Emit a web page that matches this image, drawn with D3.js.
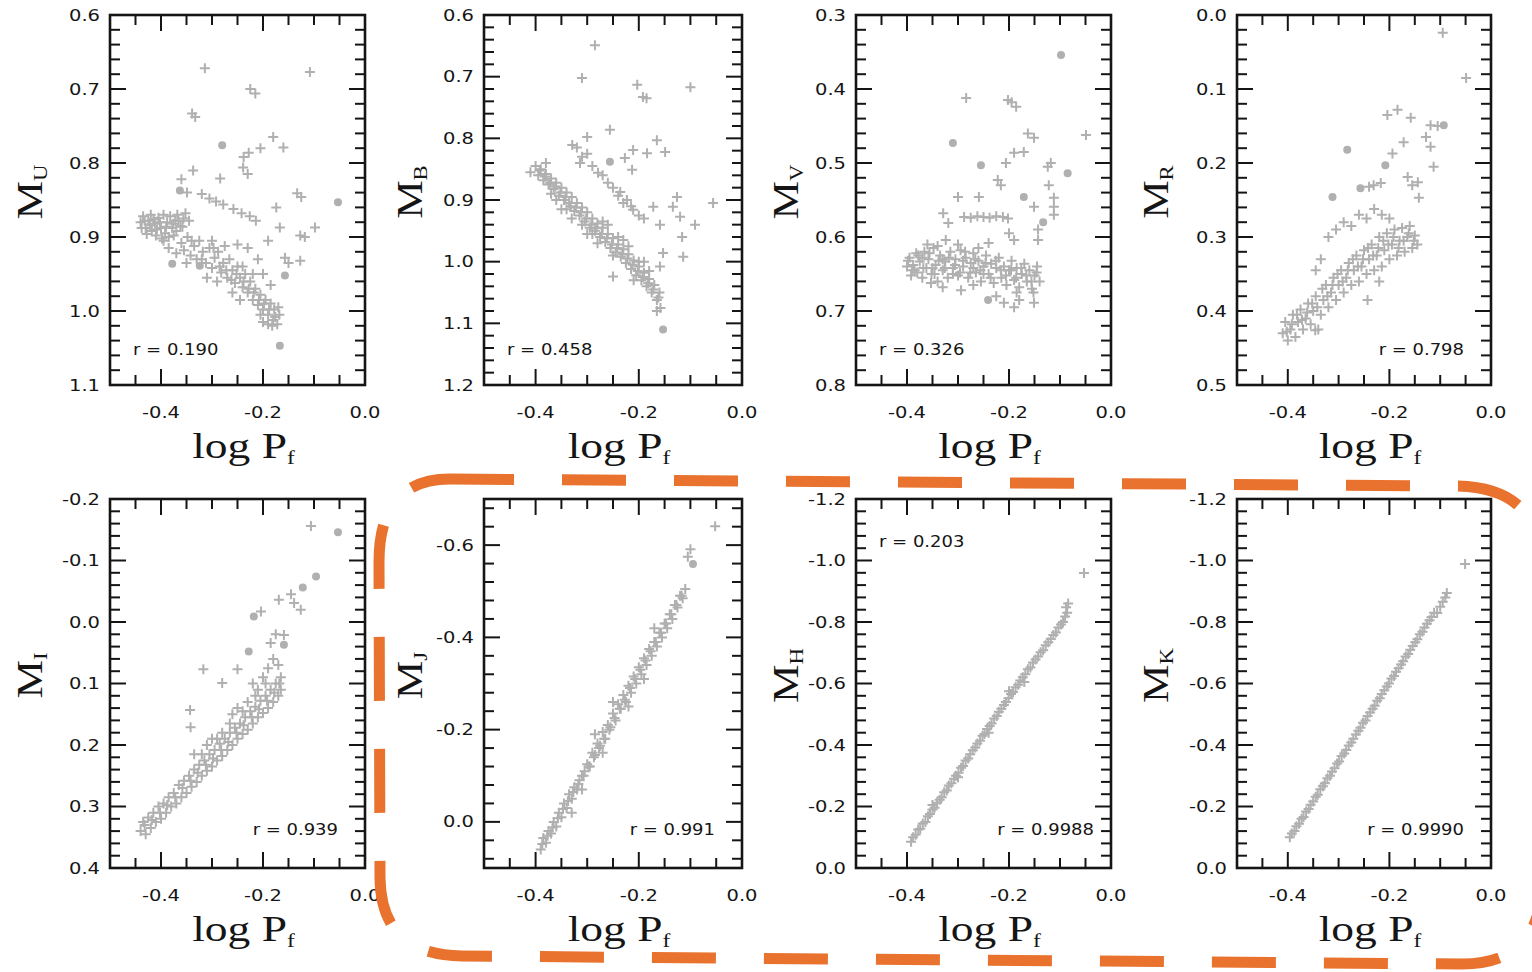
<!DOCTYPE html>
<html><head><meta charset="utf-8">
<script src="https://cdn.jsdelivr.net/npm/d3@7"></script>
<style>html,body{margin:0;padding:0;background:#fff;} svg{display:block;}</style>
</head><body>
<svg id="c" width="1532" height="972"></svg>
<script>
// ---------------- data ----------------
const bands = ["U","B","V","R","I","J","H","K"];
const xDomain = [-0.5, 0.0];
const xMajor = [-0.4, -0.2, 0.0];
const xMinorStep = 0.05;
const yDomains = [[0.6,1.1],[0.6,1.2],[0.3,0.8],[0.0,0.5],[-0.2,0.4],[-0.7,0.1],[-1.2,0.0],[-1.2,0.0]];
const yMajors = [
  [0.6,0.7,0.8,0.9,1.0,1.1],
  [0.6,0.7,0.8,0.9,1.0,1.1,1.2],
  [0.3,0.4,0.5,0.6,0.7,0.8],
  [0.0,0.1,0.2,0.3,0.4,0.5],
  [-0.2,-0.1,0.0,0.1,0.2,0.3,0.4],
  [-0.6,-0.4,-0.2,0.0],
  [-1.2,-1.0,-0.8,-0.6,-0.4,-0.2,0.0],
  [-1.2,-1.0,-0.8,-0.6,-0.4,-0.2,0.0]
];
const yMinorSteps = [0.02,0.02,0.02,0.02,0.02,0.04,0.04,0.04];
const rLabels = [["r = 0.190"],["r = 0.458"],["r = 0.326"],["r = 0.798"],["r = 0.939"],["r = 0.991"],["r = 0.203","r = 0.9988"],["r = 0.9990"]];

const ptsU = [
[-0.314,0.672],[-0.108,0.677],[-0.225,0.700],[-0.215,0.706],[-0.339,0.733],[-0.333,0.738],
[-0.280,0.776,1],[-0.180,0.765],[-0.160,0.779],[-0.228,0.786],[-0.238,0.792],[-0.205,0.780],
[-0.337,0.810],[-0.239,0.806],[-0.230,0.815],[-0.360,0.822],[-0.284,0.821],
[-0.363,0.837,1],[-0.349,0.840],[-0.320,0.842],[-0.305,0.848],[-0.292,0.852],[-0.278,0.856],[-0.258,0.862],[-0.242,0.868],[-0.226,0.872],[-0.214,0.878],
[-0.133,0.841],[-0.125,0.846],[-0.053,0.853,1],[-0.174,0.860],[-0.167,0.887],[-0.098,0.887],[-0.127,0.898],[-0.118,0.900],[-0.127,0.932],[-0.157,0.928],[-0.150,0.935],[-0.157,0.952,1],[-0.167,1.047,1],[-0.378,0.936,1],[-0.324,0.939,1],[-0.190,0.905],
[-0.440,0.880],[-0.435,0.872],[-0.430,0.888],[-0.425,0.878],[-0.420,0.870],[-0.418,0.892],[-0.412,0.882],[-0.405,0.874],[-0.400,0.888],[-0.395,0.870],[-0.392,0.895],[-0.388,0.880],[-0.382,0.872],[-0.378,0.888],[-0.372,0.878],[-0.368,0.870],[-0.362,0.885],[-0.356,0.875],[-0.352,0.868],[-0.410,0.898],[-0.428,0.896],[-0.398,0.902],[-0.385,0.900],
[-0.438,0.888],[-0.432,0.878],[-0.422,0.884],[-0.415,0.876],[-0.408,0.890],[-0.402,0.880],[-0.390,0.886],[-0.376,0.882],[-0.366,0.878],[-0.358,0.886],[-0.370,0.892],[-0.345,0.878],
[-0.395,0.905],[-0.385,0.915],[-0.375,0.898],[-0.370,0.922],[-0.360,0.908],[-0.355,0.918],[-0.348,0.900],[-0.342,0.925],[-0.335,0.912],[-0.330,0.930],[-0.325,0.905],[-0.318,0.920],[-0.312,0.935],[-0.305,0.915],[-0.300,0.942],[-0.295,0.928],[-0.288,0.920],[-0.282,0.948],[-0.278,0.935],[-0.270,0.955],[-0.266,0.930],[-0.260,0.945],[-0.255,0.962],[-0.250,0.940],[-0.245,0.955],[-0.240,0.968],[-0.235,0.950],[-0.230,0.975],[-0.225,0.960],[-0.220,0.985],[-0.215,0.970],[-0.210,0.992],[-0.205,0.978],[-0.200,0.998],[-0.195,0.985],[-0.190,1.005],[-0.185,0.990],[-0.180,1.012],[-0.178,0.998],[-0.172,1.018],[-0.168,1.005],[-0.190,1.018],[-0.205,1.005],[-0.260,0.975],[-0.290,0.960],[-0.245,0.985],[-0.310,0.955],[-0.350,0.935],
[-0.230,0.915],[-0.210,0.930],[-0.250,0.910],[-0.200,0.950],[-0.185,0.965],[-0.300,0.905],[-0.275,0.912],
[-0.340,0.905],[-0.320,0.930],[-0.297,0.915],[-0.285,0.940],[-0.272,0.945],[-0.262,0.958],[-0.252,0.950],[-0.238,0.960],[-0.228,0.970],[-0.218,0.975],[-0.208,0.985],[-0.198,0.990],[-0.188,0.998],[-0.176,1.008],[-0.182,1.020],[-0.200,1.015],[-0.170,0.995],[-0.220,0.950],[-0.240,0.940]
];
const ptsB = [
[-0.285,0.649],[-0.310,0.702],[-0.203,0.713],[-0.192,0.733],[-0.185,0.735],[-0.100,0.717],
[-0.256,0.786],[-0.329,0.811],[-0.300,0.798],[-0.211,0.819],[-0.184,0.824],[-0.165,0.803],[-0.149,0.822],[-0.256,0.838,1],[-0.227,0.832],[-0.213,0.851],[-0.314,0.840],[-0.279,0.856],
[-0.236,0.887],[-0.223,0.900],[-0.211,0.916],[-0.172,0.911],[-0.126,0.895],[-0.134,0.911],[-0.056,0.905],[-0.120,0.927],[-0.159,0.940],[-0.091,0.940],[-0.116,0.960],[-0.153,0.986],[-0.114,0.992],[-0.159,1.008],[-0.250,1.024],[-0.153,1.110,1],
[-0.320,0.815],[-0.310,0.830],[-0.300,0.825],[-0.290,0.845],[-0.270,0.860],[-0.260,0.872],[-0.250,0.880],[-0.240,0.893],[-0.230,0.905],[-0.215,0.910],[-0.200,0.925],[-0.190,0.930],
[-0.400,0.845],[-0.395,0.860],[-0.390,0.850],[-0.385,0.868],[-0.380,0.858],[-0.375,0.875],[-0.370,0.865],[-0.365,0.882],[-0.360,0.872],[-0.355,0.893],[-0.350,0.880],[-0.345,0.900],[-0.340,0.888],[-0.335,0.905],[-0.330,0.895],[-0.325,0.918],[-0.320,0.905],[-0.315,0.925],[-0.310,0.912],[-0.305,0.935],[-0.300,0.920],[-0.295,0.945],[-0.290,0.930],[-0.285,0.950],[-0.280,0.938],[-0.275,0.960],[-0.270,0.945],[-0.265,0.968],[-0.260,0.955],[-0.255,0.978],[-0.250,0.962],[-0.245,0.985],[-0.240,0.972],[-0.235,0.992],[-0.230,0.980],[-0.225,1.002],[-0.220,0.988],[-0.215,1.012],[-0.210,0.998],[-0.205,1.022],[-0.200,1.008],[-0.195,1.030],[-0.190,1.018],[-0.185,1.040],[-0.180,1.028],[-0.175,1.050],[-0.170,1.038],[-0.165,1.062],[-0.160,1.050],[-0.158,1.075],[-0.165,1.080],
[-0.330,0.930],[-0.360,0.900],[-0.280,0.970],[-0.310,0.940],[-0.250,0.990],[-0.210,1.030],[-0.270,0.935],[-0.230,0.965],[-0.190,1.000],[-0.380,0.840],[-0.410,0.855],[-0.350,0.915],[-0.300,0.955],
[-0.392,0.852],[-0.382,0.862],[-0.372,0.872],[-0.362,0.878],[-0.352,0.888],[-0.342,0.895],[-0.332,0.910],[-0.322,0.912],[-0.312,0.920],[-0.302,0.930],[-0.292,0.940],[-0.282,0.945],[-0.272,0.955],[-0.262,0.962],[-0.252,0.972],[-0.242,0.978],[-0.232,0.988],[-0.222,0.995],[-0.212,1.005],[-0.202,1.015],[-0.192,1.025],[-0.182,1.035],[-0.172,1.045],[-0.162,1.058],[-0.370,0.890],[-0.340,0.915],[-0.290,0.955],[-0.260,0.940],[-0.240,0.960],[-0.220,0.975],[-0.200,1.000],[-0.180,1.015]
];
const ptsV = [
[-0.098,0.354,1],[-0.284,0.412],[-0.202,0.415],[-0.186,0.424],[-0.195,0.418],[-0.310,0.473,1],[-0.163,0.460],[-0.151,0.466],[-0.049,0.462],[-0.190,0.486],[-0.171,0.485],[-0.255,0.503,1],[-0.206,0.500],[-0.124,0.505],[-0.118,0.500],[-0.085,0.514,1],[-0.222,0.523],[-0.216,0.530],[-0.122,0.530],[-0.300,0.546],[-0.259,0.546],[-0.171,0.546,1],[-0.112,0.547],[-0.112,0.559],[-0.112,0.570],[-0.151,0.559],[-0.329,0.568],[-0.319,0.581],[-0.288,0.573],[-0.275,0.574],[-0.262,0.572],[-0.250,0.573],[-0.238,0.574],[-0.225,0.572],[-0.212,0.573],[-0.202,0.575],[-0.133,0.580,1],[-0.143,0.590],[-0.143,0.604],[-0.324,0.604],[-0.200,0.595],[-0.190,0.604],
[-0.400,0.640],[-0.395,0.628],[-0.392,0.652],[-0.388,0.638],[-0.382,0.622],[-0.380,0.648],[-0.375,0.633],[-0.370,0.655],[-0.366,0.620],[-0.362,0.642],[-0.358,0.630],[-0.352,0.650],[-0.348,0.615],[-0.344,0.638],[-0.340,0.660],[-0.335,0.625],[-0.330,0.645],[-0.325,0.633],[-0.320,0.655],[-0.315,0.620],[-0.310,0.642],[-0.305,0.630],[-0.300,0.652],[-0.295,0.618],[-0.290,0.640],[-0.285,0.628],[-0.280,0.655],[-0.275,0.635],[-0.270,0.622],[-0.265,0.648],[-0.260,0.632],[-0.255,0.660],[-0.250,0.640],[-0.245,0.625],[-0.240,0.650],[-0.235,0.636],[-0.230,0.662],[-0.225,0.642],[-0.220,0.628],[-0.215,0.655],[-0.210,0.640],[-0.205,0.665],[-0.200,0.645],[-0.195,0.632],[-0.190,0.658],[-0.185,0.642],[-0.180,0.668],[-0.175,0.650],[-0.170,0.636],[-0.165,0.660],[-0.160,0.645],[-0.155,0.670],[-0.150,0.652],[-0.145,0.640],[-0.140,0.660],[-0.152,0.675],[-0.185,0.675],
[-0.390,0.645],[-0.370,0.628],[-0.350,0.642],[-0.330,0.630],[-0.310,0.650],[-0.290,0.632],[-0.270,0.642],[-0.250,0.650],[-0.360,0.610],[-0.340,0.612],[-0.300,0.610],[-0.260,0.615],[-0.240,0.608],
[-0.398,0.632],[-0.385,0.645],[-0.378,0.625],[-0.368,0.642],[-0.356,0.622],[-0.346,0.650],[-0.338,0.632],[-0.326,0.642],[-0.318,0.628],[-0.306,0.638],[-0.296,0.648],[-0.286,0.620],[-0.276,0.648],[-0.266,0.630],[-0.256,0.645],[-0.246,0.635],[-0.236,0.655],[-0.226,0.632],[-0.216,0.645],[-0.206,0.652],[-0.196,0.645],[-0.186,0.655],[-0.176,0.642],[-0.166,0.652],[-0.156,0.660],[-0.146,0.648],
[-0.353,0.662],[-0.294,0.672],[-0.241,0.685,1],[-0.210,0.689],[-0.151,0.689],[-0.330,0.668],[-0.270,0.665],[-0.225,0.680],[-0.180,0.685],[-0.190,0.695]
];
const ptsR = [
[-0.095,0.024],[-0.049,0.085],[-0.204,0.135],[-0.184,0.128],[-0.158,0.139],[-0.119,0.149],[-0.093,0.149,1],[-0.105,0.150],[-0.128,0.165],[-0.172,0.172],[-0.119,0.178],[-0.283,0.182,1],[-0.194,0.187],[-0.208,0.203,1],[-0.113,0.205],[-0.164,0.219],[-0.144,0.226],[-0.155,0.230],[-0.257,0.234,1],[-0.240,0.232],[-0.231,0.230],[-0.217,0.227],[-0.312,0.246,1],[-0.142,0.247],
[-0.410,0.430],[-0.405,0.415],[-0.400,0.440],[-0.395,0.425],[-0.390,0.405],[-0.385,0.435],[-0.380,0.415],[-0.375,0.398],[-0.370,0.425],[-0.365,0.410],[-0.360,0.390],[-0.355,0.418],[-0.350,0.400],[-0.345,0.380],[-0.340,0.425],[-0.335,0.405],[-0.330,0.385],[-0.325,0.365],[-0.320,0.395],[-0.315,0.375],[-0.310,0.355],[-0.305,0.385],[-0.300,0.365],[-0.295,0.345],[-0.290,0.375],[-0.285,0.355],[-0.280,0.335],[-0.275,0.365],[-0.270,0.345],[-0.265,0.325],[-0.260,0.360],[-0.255,0.340],[-0.250,0.318],[-0.245,0.350],[-0.240,0.330],[-0.235,0.310],[-0.230,0.345],[-0.225,0.325],[-0.220,0.300],[-0.215,0.340],[-0.210,0.318],[-0.205,0.295],[-0.200,0.330],[-0.195,0.310],[-0.190,0.290],[-0.185,0.325],[-0.180,0.305],[-0.175,0.288],[-0.170,0.320],[-0.165,0.300],[-0.160,0.285],[-0.155,0.315],[-0.150,0.298],[-0.145,0.310],
[-0.402,0.428],[-0.392,0.418],[-0.382,0.405],[-0.372,0.412],[-0.362,0.402],[-0.352,0.390],[-0.342,0.395],[-0.332,0.370],[-0.322,0.380],[-0.312,0.365],[-0.302,0.350],[-0.292,0.360],[-0.282,0.345],[-0.272,0.330],[-0.262,0.340],[-0.252,0.330],[-0.242,0.315],[-0.232,0.325],[-0.222,0.315],[-0.212,0.305],[-0.202,0.310],[-0.192,0.300],[-0.182,0.315],[-0.172,0.305],[-0.162,0.295],[-0.152,0.305],
[-0.320,0.300],[-0.305,0.290],[-0.290,0.280],[-0.275,0.285],[-0.260,0.270],[-0.245,0.275],[-0.230,0.262],[-0.215,0.270],[-0.200,0.275],[-0.335,0.330],[-0.345,0.345],
[-0.243,0.385],[-0.346,0.426],[-0.220,0.360]
];
const ptsI = [
[-0.106,-0.156],[-0.053,-0.146,1],[-0.096,-0.074,1],[-0.122,-0.056,1],[-0.169,-0.036],[-0.139,-0.031],[-0.126,-0.020],[-0.145,-0.045],[-0.218,-0.009,1],[-0.204,-0.017],[-0.159,0.021],[-0.185,0.034],[-0.159,0.037,1],[-0.175,0.020],[-0.228,0.048,1],[-0.317,0.077],[-0.250,0.077],[-0.280,0.099],[-0.343,0.143],[-0.342,0.171],
[-0.440,0.340],[-0.435,0.325],[-0.430,0.345],[-0.425,0.318],[-0.420,0.335],[-0.415,0.310],[-0.410,0.325],[-0.405,0.300],[-0.400,0.320],[-0.395,0.295],[-0.390,0.310],[-0.385,0.285],[-0.380,0.300],[-0.375,0.278],[-0.370,0.295],[-0.365,0.265],[-0.360,0.285],[-0.355,0.258],[-0.350,0.278],[-0.345,0.250],[-0.340,0.268],[-0.335,0.240],[-0.330,0.260],[-0.325,0.232],[-0.320,0.250],[-0.315,0.225],[-0.310,0.242],[-0.305,0.215],[-0.300,0.235],[-0.295,0.208],[-0.290,0.225],[-0.285,0.198],[-0.280,0.218],[-0.275,0.190],[-0.270,0.208],[-0.265,0.180],[-0.260,0.200],[-0.255,0.172],[-0.250,0.190],[-0.245,0.165],[-0.240,0.182],[-0.235,0.155],[-0.230,0.175],[-0.225,0.145],[-0.220,0.165],[-0.215,0.138],[-0.210,0.155],[-0.205,0.128],[-0.200,0.148],[-0.195,0.120],[-0.190,0.140],[-0.185,0.110],[-0.180,0.130],[-0.175,0.100],[-0.170,0.120],[-0.165,0.090],[-0.165,0.110],
[-0.432,0.330],[-0.418,0.322],[-0.402,0.310],[-0.388,0.298],[-0.372,0.285],[-0.358,0.270],[-0.342,0.258],[-0.328,0.245],[-0.312,0.232],[-0.298,0.222],[-0.282,0.208],[-0.268,0.195],[-0.252,0.180],[-0.238,0.168],[-0.222,0.155],[-0.208,0.142],[-0.192,0.128],[-0.178,0.115],[-0.168,0.100],[-0.240,0.145],[-0.215,0.120],[-0.195,0.100],[-0.265,0.165],[-0.290,0.190],[-0.320,0.215],
[-0.310,0.200],[-0.280,0.180],[-0.260,0.150],[-0.230,0.130],[-0.210,0.110],[-0.200,0.090],[-0.190,0.075],[-0.180,0.060],[-0.300,0.190],[-0.335,0.215],[-0.250,0.140],[-0.220,0.100],[-0.170,0.070]
];
const ptsJ = [
[-0.052,-0.641],[-0.100,-0.591],[-0.095,-0.559,1],[-0.105,-0.575],
[-0.390,0.060],[-0.385,0.035],[-0.380,0.045],[-0.375,0.020],[-0.370,0.025],[-0.365,0.000],[-0.360,0.010],[-0.355,-0.020],[-0.350,-0.010],[-0.345,-0.040],[-0.340,-0.030],[-0.335,-0.060],[-0.330,-0.050],[-0.325,-0.075],[-0.320,-0.070],[-0.315,-0.090],[-0.310,-0.100],[-0.305,-0.110],[-0.300,-0.125],[-0.295,-0.120],[-0.290,-0.150],[-0.285,-0.145],[-0.280,-0.170],[-0.275,-0.165],[-0.270,-0.195],[-0.265,-0.180],[-0.260,-0.210],[-0.255,-0.205],[-0.250,-0.235],[-0.245,-0.220],[-0.240,-0.255],[-0.235,-0.245],[-0.230,-0.275],[-0.225,-0.260],[-0.220,-0.295],[-0.215,-0.280],[-0.210,-0.315],[-0.205,-0.300],[-0.200,-0.335],[-0.195,-0.320],[-0.190,-0.355],[-0.185,-0.340],[-0.180,-0.375],[-0.175,-0.360],[-0.170,-0.390],[-0.165,-0.380],[-0.160,-0.410],[-0.155,-0.400],[-0.150,-0.430],[-0.145,-0.420],[-0.140,-0.450],[-0.135,-0.440],[-0.130,-0.470],[-0.125,-0.465],[-0.120,-0.490],[-0.115,-0.485],[-0.110,-0.505],
[-0.310,-0.070],[-0.270,-0.150],[-0.220,-0.250],[-0.190,-0.310],[-0.250,-0.260],[-0.170,-0.420],[-0.330,-0.020],[-0.285,-0.190],
[-0.387,0.048],[-0.377,0.030],[-0.367,0.012],[-0.357,-0.008],[-0.347,-0.028],[-0.337,-0.045],[-0.327,-0.065],[-0.317,-0.082],[-0.307,-0.100],[-0.297,-0.120],[-0.287,-0.140],[-0.277,-0.160],[-0.267,-0.180],[-0.257,-0.200],[-0.247,-0.225],[-0.237,-0.245],[-0.227,-0.265],[-0.217,-0.290],[-0.207,-0.310],[-0.197,-0.330],[-0.187,-0.350],[-0.177,-0.370],[-0.167,-0.390],[-0.157,-0.410],[-0.147,-0.430],[-0.137,-0.450],[-0.127,-0.470],[-0.117,-0.490]
];
const ptsH = [
[-0.392,-0.085],[-0.388,-0.100],[-0.383,-0.108],[-0.378,-0.125],[-0.374,-0.128],[-0.369,-0.145],[-0.364,-0.150],[-0.359,-0.168],[-0.355,-0.176],[-0.350,-0.190],[-0.346,-0.196],[-0.341,-0.212],[-0.336,-0.222],[-0.332,-0.230],[-0.327,-0.246],[-0.322,-0.252],[-0.318,-0.268],[-0.313,-0.276],[-0.308,-0.290],[-0.304,-0.300],[-0.299,-0.310],[-0.294,-0.326],[-0.290,-0.332],[-0.285,-0.350],[-0.280,-0.356],[-0.276,-0.370],[-0.271,-0.383],[-0.266,-0.392],[-0.262,-0.405],[-0.257,-0.414],[-0.252,-0.430],[-0.248,-0.436],[-0.243,-0.452],[-0.238,-0.462],[-0.234,-0.470],[-0.229,-0.486],[-0.224,-0.494],[-0.220,-0.508],[-0.215,-0.518],[-0.210,-0.530],[-0.206,-0.540],[-0.201,-0.552],[-0.196,-0.566],[-0.192,-0.572],[-0.187,-0.588],[-0.182,-0.596],[-0.178,-0.610],[-0.173,-0.620],[-0.168,-0.630],[-0.163,-0.646],[-0.158,-0.652],[-0.153,-0.668],[-0.148,-0.678],[-0.143,-0.688],[-0.138,-0.702],[-0.133,-0.708],[-0.128,-0.724],[-0.123,-0.734],[-0.118,-0.745],[-0.113,-0.758],[-0.108,-0.766],[-0.103,-0.782],[-0.098,-0.792],[-0.094,-0.800],[-0.090,-0.818],[-0.086,-0.830],[-0.084,-0.860],[-0.088,-0.848],[-0.053,-0.959],
[-0.240,-0.440],[-0.200,-0.575],[-0.170,-0.605],[-0.300,-0.295],[-0.350,-0.205]
];
const ptsK = [
[-0.396,-0.100],[-0.392,-0.112],[-0.387,-0.120],[-0.383,-0.136],[-0.378,-0.144],[-0.373,-0.160],[-0.369,-0.166],[-0.364,-0.184],[-0.359,-0.192],[-0.355,-0.206],[-0.350,-0.216],[-0.345,-0.232],[-0.341,-0.238],[-0.336,-0.256],[-0.331,-0.266],[-0.327,-0.276],[-0.322,-0.292],[-0.317,-0.300],[-0.313,-0.314],[-0.308,-0.324],[-0.303,-0.340],[-0.299,-0.346],[-0.294,-0.364],[-0.289,-0.372],[-0.285,-0.384],[-0.280,-0.398],[-0.275,-0.408],[-0.271,-0.420],[-0.266,-0.434],[-0.261,-0.446],[-0.257,-0.456],[-0.252,-0.472],[-0.247,-0.480],[-0.243,-0.494],[-0.238,-0.506],[-0.233,-0.518],[-0.229,-0.528],[-0.224,-0.544],[-0.219,-0.552],[-0.215,-0.566],[-0.210,-0.578],[-0.205,-0.590],[-0.201,-0.600],[-0.196,-0.616],[-0.191,-0.624],[-0.187,-0.638],[-0.182,-0.650],[-0.177,-0.662],[-0.173,-0.672],[-0.168,-0.688],[-0.163,-0.696],[-0.159,-0.710],[-0.154,-0.722],[-0.149,-0.734],[-0.145,-0.744],[-0.140,-0.760],[-0.135,-0.768],[-0.131,-0.782],[-0.126,-0.794],[-0.121,-0.806],[-0.117,-0.816],[-0.112,-0.830],[-0.106,-0.829],[-0.100,-0.850],[-0.095,-0.866],[-0.090,-0.880],[-0.087,-0.894],[-0.051,-0.989]
];
const allPts = [ptsU, ptsB, ptsV, ptsR, ptsI, ptsJ, ptsH, ptsK];

// ---------------- layout ----------------
const svg = d3.select("#c");
svg.append("rect").attr("width",1532).attr("height",972).attr("fill","#fff");
const defs = svg.append("defs");
defs.append("filter").attr("id","soft").attr("x","-5%").attr("y","-5%").attr("width","110%").attr("height","110%")
  .append("feGaussianBlur").attr("stdDeviation", 0.55);
const colL = [110, 484, 856, 1237], colR = [365, 742, 1111, 1491];
const rowT = [15, 499], rowB = [385, 868];
const yTitleOff = [68, 62, 58, 69];
const markColor = "#b0b0b0";
const inkColor = "#151515";
const fmt = v => (Math.abs(v) < 1e-9 ? "0.0" : v.toFixed(1));
const stepTicks = (dom, step) => {
  const lo = Math.min(dom[0], dom[1]), hi = Math.max(dom[0], dom[1]);
  return d3.range(Math.ceil(lo/step - 1e-6), Math.floor(hi/step + 1e-6)+1).map(i => +(i*step).toFixed(4))
    .filter(v => v > lo + 1e-6 && v < hi - 1e-6);
};

bands.forEach((band, i) => {
  const row = Math.floor(i/4), col = i % 4;
  const L = colL[col], R = colR[col], T = rowT[row], B = rowB[row];
  const x = d3.scaleLinear().domain(xDomain).range([L, R]);
  const y = d3.scaleLinear().domain(yDomains[i]).range([T, B]);
  const g = svg.append("g");

  // points
  const pts = allPts[i];
  const pg = g.append("g").attr("filter","url(#soft)");
  pg.append("g").selectAll("path").data(pts.filter(d => !d[2])).join("path")
    .attr("d", d => { const px = x(d[0]), py = y(d[1]); return `M${px-5},${py}h10M${px},${py-5}v10`; })
    .attr("stroke", markColor).attr("stroke-width", 2).attr("fill","none");
  pg.append("g").selectAll("circle").data(pts.filter(d => d[2])).join("circle")
    .attr("cx", d => x(d[0])).attr("cy", d => y(d[1])).attr("r", 4).attr("fill", markColor);

  // ticks (inward, on all four sides)
  const tk = g.append("g").attr("stroke", inkColor).attr("stroke-width", 2);
  stepTicks(xDomain, xMinorStep).forEach(v => {
    const major = xMajor.some(m => Math.abs(m - v) < 1e-6);
    const len = major ? 16 : 10;
    tk.append("line").attr("x1", x(v)).attr("x2", x(v)).attr("y1", T).attr("y2", T+len);
    tk.append("line").attr("x1", x(v)).attr("x2", x(v)).attr("y1", B).attr("y2", B-len);
  });
  stepTicks(yDomains[i], yMinorSteps[i]).forEach(v => {
    const major = yMajors[i].some(m => Math.abs(m - v) < 1e-6);
    const len = major ? 16 : 10;
    const py = y(v);
    tk.append("line").attr("x1", L).attr("x2", L+len).attr("y1", py).attr("y2", py);
    tk.append("line").attr("x1", R).attr("x2", R-len).attr("y1", py).attr("y2", py);
  });

  // frame
  g.append("rect").attr("x", L).attr("y", T).attr("width", R-L).attr("height", B-T)
    .attr("fill","none").attr("stroke", inkColor).attr("stroke-width", 2.6);

  // tick labels
  xMajor.forEach(v => {
    g.append("text").attr("transform", `translate(${x(v)},${B+33}) scale(1.3,1)`)
      .attr("text-anchor","middle").attr("font-family","DejaVu Sans").attr("font-size",15)
      .attr("fill", inkColor).text(fmt(v));
  });
  yMajors[i].forEach(v => {
    g.append("text").attr("transform", `translate(${L-10},${y(v)+5.5}) scale(1.3,1)`)
      .attr("text-anchor","end").attr("font-family","DejaVu Sans").attr("font-size",15)
      .attr("fill", inkColor).text(fmt(v));
  });

  // axis titles
  const xt = g.append("text").attr("transform", `translate(${(L+R)/2+6},${B+73}) scale(1.3,1)`)
    .attr("text-anchor","middle").attr("font-family","Liberation Serif").attr("font-size",35)
    .attr("fill", inkColor);
  xt.append("tspan").text("log P");
  xt.append("tspan").attr("font-size",18).attr("dy",6).text("f");

  const yt = g.append("text")
    .attr("transform", `translate(${L-yTitleOff[col]},${(T+B)/2-8}) rotate(-90) scale(1.2,1)`)
    .attr("text-anchor","middle").attr("font-family","Liberation Serif").attr("font-size",36)
    .attr("fill", inkColor);
  yt.append("tspan").text("M");
  yt.append("tspan").attr("font-size",19).attr("dy",5).text(band);

  // correlation labels
  const rl = rLabels[i];
  const rText = (s, px, py, anchor) => g.append("text")
    .attr("transform", `translate(${px},${py}) scale(1.2,1)`)
    .attr("text-anchor", anchor).attr("font-family","DejaVu Sans").attr("font-size",15)
    .attr("fill", inkColor).text(s);
  if (i < 3) rText(rl[0], L+23, B-30, "start");
  else if (i === 6) { rText(rl[0], L+23, T+48, "start"); rText(rl[1], R-17, B-33, "end"); }
  else rText(rl[0], R-27, B-(row ? 33 : 30), "end");
});

// ---------------- orange dashed highlight ----------------
const orange = "#E8722E";
const topP = svg.append("path")
  .attr("d", "M450,479 L1458,486 Q1542,488 1542,570 L1542,880")
  .attr("fill","none").attr("stroke", orange).attr("stroke-width", 11)
  .attr("stroke-dasharray", "64 48");
const botP = svg.append("path")
  .attr("d", "M1542,880 Q1542,964 1462,964 L462,956 Q381,955 380,878 L379,562 Q379,479 450,479")
  .attr("fill","none").attr("stroke", orange).attr("stroke-width", 11)
  .attr("stroke-dasharray", "64 48");
(function(){
  const n = botP.node(), tot = n.getTotalLength();
  let L0 = 0;
  for (let s = 0; s < tot; s += 1) { const p = n.getPointAtLength(s); if (p.y > 940 && p.x <= 1500) { L0 = s; break; } }
  botP.attr("stroke-dashoffset", (112 - (L0 % 112)) % 112);
})();
</script>
</body></html>
